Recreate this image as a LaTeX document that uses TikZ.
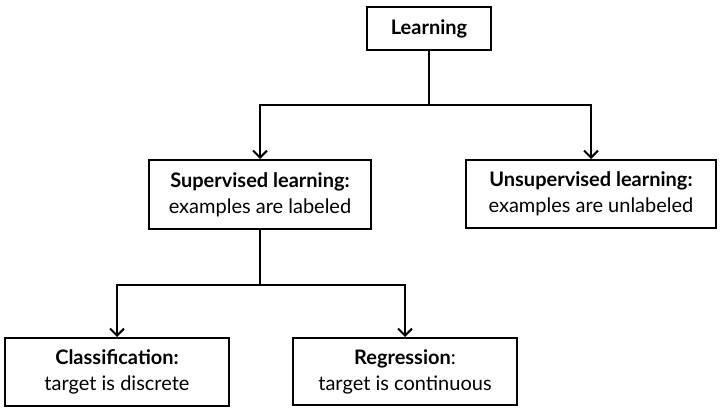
\documentclass[tikz,border=0pt]{standalone}
\usepackage{fontspec}
\setmainfont{Lato}
\usetikzlibrary{arrows.meta}
\begin{document}
\begin{tikzpicture}[x=1pt,y=-1pt,
  box/.style={draw,line width=2pt,inner sep=0pt,align=center,font=\fontsize{20}{26}\selectfont},
  conn/.style={line width=2pt,-{Straight Barb[length=7pt,width=14pt,line width=2pt]}}]
\useasboundingbox (0,0) rectangle (721,414);
\node[box,minimum width=124pt,minimum height=43pt] (learn) at (429,28.5) {\textbf{Learning}};
\node[box,minimum width=222pt,minimum height=69pt] (sup) at (260,194.5) {\textbf{Supervised learning:}\\examples are labeled};
\node[box,minimum width=250pt,minimum height=68pt] (unsup) at (591,194) {\textbf{Unsupervised learning:}\\examples are unlabeled};
\node[box,minimum width=224pt,minimum height=68pt] (cls) at (117,372) {\textbf{Classification:}\\target is discrete};
\node[box,minimum width=224pt,minimum height=67pt] (reg) at (405,371.5) {\textbf{Regression}:\\target is continuous};
\coordinate (j1) at (429,105);
\coordinate (j2) at (260,285);
\draw[conn] (learn.south) -- (j1) -| (sup.north);
\draw[conn] (j1) -| (unsup.north);
\draw[conn] (sup.south) -- (j2) -| (cls.north);
\draw[conn] (j2) -| (reg.north);
\end{tikzpicture}
\end{document}
